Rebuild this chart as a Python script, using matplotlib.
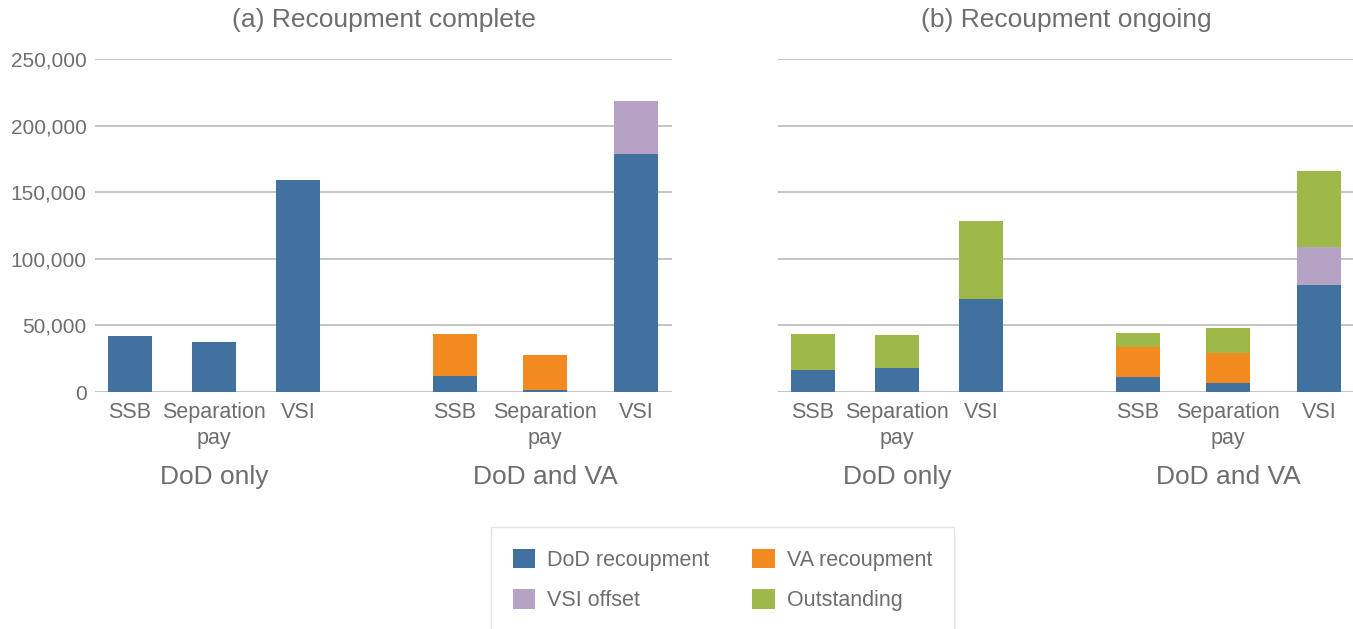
import numpy as np
import matplotlib
matplotlib.use('Agg')
import matplotlib.pyplot as plt
from matplotlib.patches import Patch

plt.rcParams['font.family'] = ['Liberation Sans', 'DejaVu Sans']

categories = ['SSB', 'Separation\npay', 'VSI']
groups = ['DoD only', 'DoD and VA']
series = ['DoD recoupment', 'VA recoupment', 'VSI offset', 'Outstanding']
colors = ['#41729f', '#f28a1f', '#b5a2c5', '#9fb84a']

# order: DoD only (SSB, Sep, VSI), DoD and VA (SSB, Sep, VSI)
complete_dod = [42250, 37750, 159250, 12000, 1500, 179000]
complete_va = [0, 0, 0, 31250, 26000, 0]
complete_vsi = [0, 0, 0, 0, 0, 39750]
complete_out = [0, 0, 0, 0, 0, 0]

ongoing_dod = [16250, 17750, 69500, 11000, 6500, 80000]
ongoing_va = [0, 0, 0, 22750, 22750, 0]
ongoing_vsi = [0, 0, 0, 0, 0, 28750]
ongoing_out = [27000, 24750, 59250, 10250, 18500, 57500]

titles = ['(a) Recoupment complete', '(b) Recoupment ongoing']

# bar positions (layout), in units of bar spacing
xpos = np.array([0.417, 1.417, 2.417, 4.286, 5.357, 6.44])
width = 0.524
gray = '#6e6e6e'

fig = plt.figure(figsize=(13.53, 6.29), dpi=100)
ax1 = fig.add_axes([95 / 1353, 237 / 629, 577 / 1353, 333 / 629])
ax2 = fig.add_axes([778 / 1353, 237 / 629, 577 / 1353, 333 / 629])

panels = [
    (ax1, [complete_dod, complete_va, complete_vsi, complete_out]),
    (ax2, [ongoing_dod, ongoing_va, ongoing_vsi, ongoing_out]),
]

for i, (ax, data) in enumerate(panels):
    bottom = np.zeros(len(xpos))
    for vals, c in zip(data, colors):
        vals = np.array(vals, dtype=float)
        ax.bar(xpos, vals, width, bottom=bottom, color=c, zorder=3)
        bottom += vals
    ax.set_xlim(0, 577 / 84)
    ax.set_ylim(0, 250000)
    ax.set_yticks(np.arange(0, 250001, 50000))
    ax.grid(axis='y', color='#b4b4b4', linewidth=1.1, zorder=0)
    for s in ax.spines.values():
        s.set_visible(False)
    ax.set_xticks(xpos)
    ax.set_xticklabels(categories * 2, fontsize=15.5, color=gray, linespacing=1.3)
    ax.tick_params(axis='x', length=0, pad=7)
    ax.tick_params(axis='y', length=0, pad=6)
    if i == 0:
        ax.set_yticklabels(['{:,}'.format(v) for v in range(0, 250001, 50000)],
                           fontsize=15, color=gray)
    else:
        ax.set_yticklabels([])
    ax.set_title(titles[i], fontsize=19, color=gray, pad=23)
    for g in range(2):
        cx = xpos[g * 3:g * 3 + 3].mean()
        ax.text(cx, -0.255, groups[g], transform=ax.get_xaxis_transform(),
                ha='center', va='center', fontsize=19, color=gray)

handles = [Patch(facecolor=c, edgecolor='none') for c in colors]
order = [0, 2, 1, 3]
leg = fig.legend([handles[k] for k in order], [series[k] for k in order],
                 ncol=2, loc='upper center', bbox_to_anchor=(722.5 / 1353, 1 - 527 / 629),
                 fontsize=15.5, frameon=True, fancybox=False, borderaxespad=0,
                 handlelength=1.05, handleheight=1.05, handletextpad=0.55,
                 columnspacing=2.0, labelspacing=0.85, borderpad=1.0,
                 shadow={'color': '0.85', 'ox': 0, 'oy': -2, 'alpha': 0.6},
                 labelcolor=gray)
leg.get_frame().set_edgecolor('#e4e4e4')
leg.get_frame().set_linewidth(1)

fig.savefig('out.png', dpi=100)
